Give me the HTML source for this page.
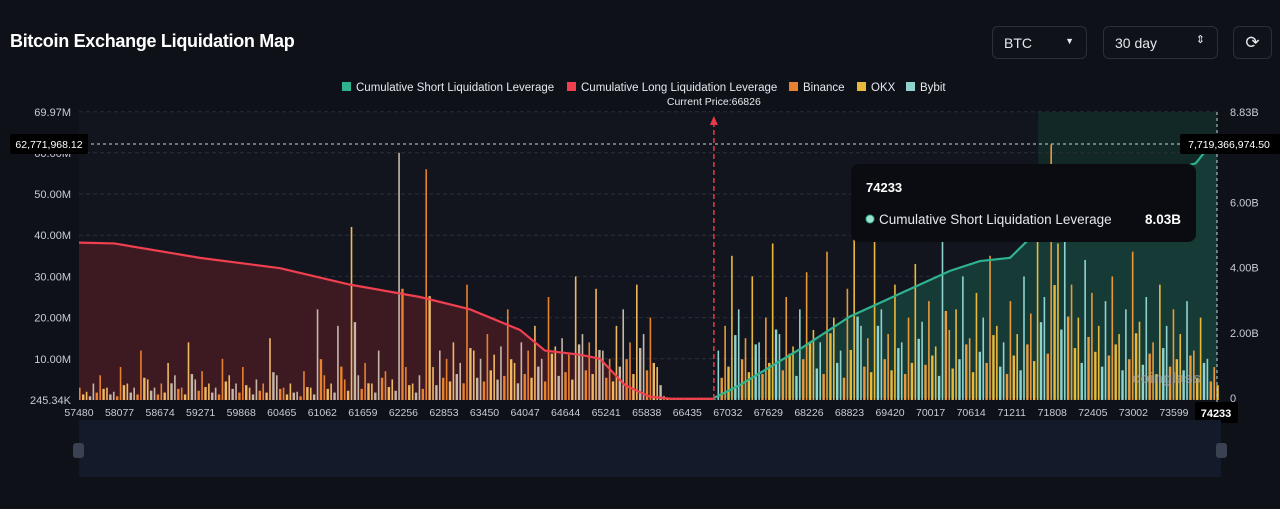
<!DOCTYPE html>
<html><head><meta charset="utf-8">
<style>
body{margin:0;background:#0e1118;font-family:"Liberation Sans",sans-serif;color:#e6e8ee;}
#wrap{position:relative;width:1280px;height:509px;overflow:hidden;background:#0e1118;}
.title{position:absolute;left:10px;top:31px;font-size:18px;font-weight:bold;letter-spacing:-0.3px;color:#fff;}
.ctl{position:absolute;top:26px;height:33px;border:1px solid #2a2f3a;border-radius:6px;background:#0f1219;font-size:14px;color:#e6e8ee;box-sizing:border-box;padding:8px 11px;}
</style></head><body>
<div id="wrap">
<div class="title">Bitcoin Exchange Liquidation Map</div>
<div class="ctl" style="left:992px;width:95px">BTC<span style="position:absolute;right:12px;top:9px;font-size:9px">▼</span></div>
<div class="ctl" style="left:1103px;width:115px">30 day<span style="position:absolute;right:12px;top:6px;font-size:11px">⇕</span></div>
<div class="ctl" style="left:1233px;width:39px;padding:6px 0;text-align:center;font-size:17px">⟳</div>
<svg id="chart" width="1280" height="509" style="position:absolute;left:0;top:0"></svg>
</div>
<script>
const ticksX=[57480,58077,58674,59271,59868,60465,61062,61659,62256,62853,63450,64047,64644,65241,65838,66435,67032,67629,68226,68823,69420,70017,70614,71211,71808,72405,73002,73599];
const leftTicks=[10,20,30,40,50,60];
const rightTicks=[2,4,6];
const barStart=57480, barStep=100;
const barValues=[3,2,4,6,3,2,8,4,3,12,5,3,4,9,6,3,14,5,7,4,3,10,6,4,8,3,5,4,15,6,3,4,2,7,3,22,6,4,18,5,42,6,9,4,12,7,5,60,8,4,6,
56,8,12,10,14,9,28,12,10,16,11,13,22,9,14,12,18,10,25,13,15,11,30,16,14,27,12,10,18,22,14,28,16,20,8,
1,0.5,0.3,0.5,0.3,0.4,0.2,0.3,
12,18,35,22,15,30,14,20,38,16,25,13,22,31,17,14,36,20,12,27,45,18,15,40,22,16,28,14,20,33,19,24,13,48,17,22,30,15,26,20,35,18,14,24,16,30,21,42,25,62,38,45,28,20,34,26,18,24,30,16,22,36,19,25,14,28,18,22,16,24,12,20,10,8];
const longPrices=[57480,58000,59261,60439,61470,62500,63236,63972,64340,64855,65150,65518,65886,66200,66826];
const longValues=[38.2,38,34.5,32,28,25,22,17,12,11,10,3.6,0.8,0.3,0.3];
const shortPrices=[66826,67210,68094,68830,69566,70302,70744,71186,71480,71700,72400,73200,73920,74150,74233];
const shortValues=[0,0.4,1.5,2.5,3.2,3.9,4.2,4.3,4.9,6.0,6.4,6.8,7.2,7.8,8.03];
const currentPrice=66826;

const NS='http://www.w3.org/2000/svg', svg=document.getElementById('chart');
const X0=79,X1=1217,YB=400;
const x=p=>X0+(p-57480)/(74233-57480)*(X1-X0);
const yL=v=>YB-v*4.12;
const yR=v=>398-v*32.6;
function el(t,a,p){const e=document.createElementNS(NS,t);for(const k in a)e.setAttribute(k,a[k]);(p||svg).appendChild(e);return e;}
function txt(s,a){const e=el('text',Object.assign({fill:'#c9ccd4','font-size':11,'font-family':'Liberation Sans, sans-serif'},a));e.textContent=s;return e;}
el('rect',{x:X0,y:112,width:X1-X0,height:YB-112,fill:'#12151d'});
el('rect',{x:x(71600),y:112,width:X1-x(71600),height:YB-112,fill:'#112826'});
[69.97].concat(leftTicks).forEach(v=>{el('line',{x1:X0,x2:X1,y1:yL(v),y2:yL(v),stroke:'#2a2e38','stroke-dasharray':'4 3'});});
let d='M'+x(longPrices[0])+','+YB;longPrices.forEach((p,i)=>d+=' L'+x(p)+','+yL(longValues[i]));d+=' L'+x(longPrices[longPrices.length-1])+','+YB+'Z';
const la=el('path',{d:d,fill:'#3d1a22'});
let d2='M'+x(shortPrices[0])+','+398;shortPrices.forEach((p,i)=>d2+=' L'+x(p)+','+yR(shortValues[i]));d2+=' L'+X1+',398Z';
const sa=el('path',{d:d2,fill:'#163a36'});
const g=el('g',{});
barValues.forEach((v,i)=>{const p=barStart+i*barStep,bx=x(p);const left=p<66000;
 const cols=left?['#e8822e','#f0b860','#c7b7a8']:['#e8b93a','#8fd3cf','#e89a3a'];
 const b=el('rect',{x:bx,y:yL(v),width:1.6,height:YB-yL(v),fill:cols[i%3]},g);
 
 const h2=v*0.45,b2=el('rect',{x:bx+3,y:yL(h2),width:2.4,height:YB-yL(h2),fill:cols[(i+1)%3]},g);
 });
const lp=el('polyline',{points:longPrices.map((p,i)=>x(p)+','+yL(longValues[i])).join(' '),fill:'none',stroke:'#f0404f','stroke-width':2.2});

const sp=el('polyline',{points:shortPrices.map((p,i)=>x(p)+','+yR(shortValues[i])).join(' '),fill:'none',stroke:'#2fb38f','stroke-width':2.2});

const cx=x(currentPrice);
el('line',{x1:cx,x2:cx,y1:122,y2:YB,stroke:'#e8394a','stroke-width':1.5,'stroke-dasharray':'5 3'});
el('path',{d:`M${cx-4},125 L${cx},116 L${cx+4},125Z`,fill:'#e8394a'});
txt('Current Price:'+currentPrice,{x:cx,y:105,'text-anchor':'middle','font-size':10.5,fill:'#e6e8ee'});
el('line',{x1:X0,x2:X1,y1:144,y2:144,stroke:'#cfd2d8','stroke-dasharray':'3 3'});
el('line',{x1:X1,x2:X1,y1:112,y2:405,stroke:'#cfd2d8','stroke-dasharray':'3 3'});
txt('69.97M',{x:71,y:116,'text-anchor':'end'});
leftTicks.forEach(v=>txt(v.toFixed(2)+'M',{x:71,y:yL(v)+4,'text-anchor':'end'}));
txt('245.34K',{x:71,y:404,'text-anchor':'end'});
txt('8.83B',{x:1230,y:116});
rightTicks.forEach(v=>txt(v.toFixed(2)+'B',{x:1230,y:yR(v)+4}));
txt('0',{x:1230,y:402});
ticksX.forEach(t=>txt(String(t),{x:x(t),y:416,'text-anchor':'middle','font-size':10.5}));
el('rect',{x:1195,y:402,width:43,height:21,rx:2,fill:'#000'});
txt('74233',{x:1216,y:417,'text-anchor':'middle','font-weight':'bold',fill:'#fff'});
el('rect',{x:10,y:134,width:78,height:20,rx:2,fill:'#000'});
txt('62,771,968.12',{x:49,y:148,'text-anchor':'middle',fill:'#fff','font-size':10.5});
el('rect',{x:1180,y:134,width:100,height:20,rx:2,fill:'#000'});
txt('7,719,366,974.50',{x:1229,y:148,'text-anchor':'middle',fill:'#fff','font-size':10.5});
const leg=[['Cumulative Short Liquidation Leverage','#2fb38f',342],['Cumulative Long Liquidation Leverage','#f0404f',567],['Binance','#e8822e',789],['OKX','#e8b93a',857],['Bybit','#8fd3cf',906]];
leg.forEach(l=>{const r=el('rect',{x:l[2],y:82,width:9,height:9,fill:l[1]});
 txt(l[0],{x:l[2]+14,y:91,fill:'#e6e8ee','font-size':11.5});});
el('rect',{x:851,y:164,width:345,height:78,rx:8,fill:'#0a0c11'});
txt('74233',{x:866,y:192,fill:'#fff','font-size':13,'font-weight':'bold'});
el('circle',{cx:870,cy:219,r:4,fill:'#9fe0d0',stroke:'#2fb38f'});
txt('Cumulative Short Liquidation Leverage',{x:879,y:224,fill:'#e6e8ee','font-size':13.5});
txt('8.03B',{x:1181,y:224,fill:'#fff','font-size':13.5,'font-weight':'bold','text-anchor':'end'});
txt('coinglass',{x:1132,y:383,fill:'#9aa0a8','font-size':15,'font-weight':'bold',opacity:0.7});
const sl=el('rect',{x:X0,y:420,width:X1-X0+4,height:57,fill:'#131a29'});
[78,1221].forEach(hx=>{const h=el('rect',{x:hx-5,y:443,width:11,height:15,rx:3,fill:'#3a4150'});});
</script>
</body></html>
